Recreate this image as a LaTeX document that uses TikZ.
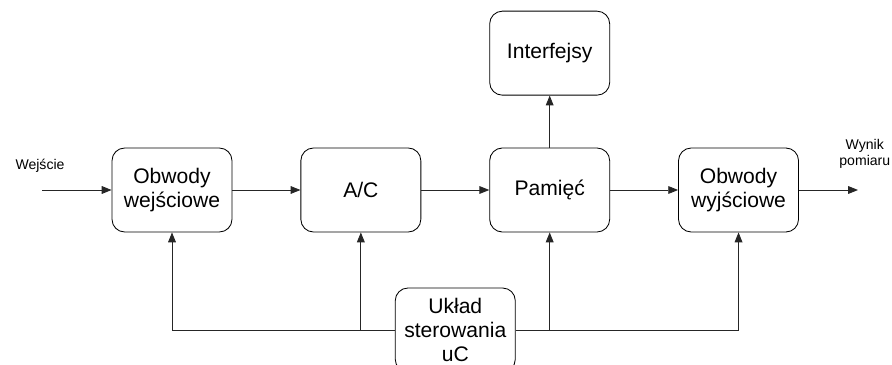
\documentclass[tikz,border=0pt]{standalone}
\usepackage{fontspec}
\setmainfont{Liberation Sans}
\usetikzlibrary{arrows.meta, positioning, calc}

\begin{document}
\begin{tikzpicture}[
  every node/.style={font=\fontsize{15}{17}\selectfont},
  blok/.style={rectangle, rounded corners=9pt, draw=black, line width=0.6pt,
               minimum width=3cm, minimum height=2.1cm, align=center},
  opis/.style={font=\fontsize{10}{11}\selectfont, align=center},
  arr/.style={-{Triangle[length=7pt, width=5.5pt]}, line width=0.6pt, black!85},
  lin/.style={line width=0.6pt, black!85}
]

  % ── Frame ─────────────────────────────────────────────────────
  \clip (0,0) rectangle (22.3,-9.125);

  % ── Main chain ────────────────────────────────────────────────
  \node[blok] (we) at (4.3,-4.75) {Obwody\\wejściowe};
  \node[blok, right=1.7cm of we]  (ac)  {A/C};
  \node[blok, right=1.7cm of ac]  (pam) {Pamięć};
  \node[blok, right=1.7cm of pam] (wy)  {Obwody\\wyjściowe};

  % ── Interfaces and controller ─────────────────────────────────
  \node[blok, above=1.3cm of pam] (intf) {Interfejsy};
  \node[blok] (ctrl) at ($(ac)!0.5!(pam)+(0,-3.5)$) {Układ\\sterowania\\uC};

  % ── Input / output ends ───────────────────────────────────────
  \coordinate (wej) at (1.05,-4.75);
  \coordinate (wyn) at (21.45,-4.75);
  \node[opis] (lwej) at (1.0,-4.15) {Wejście};
  \node[opis] (lwyn) at (21.62,-3.85) {Wynik\\pomiaru};

  % ── Arrows: signal path ──────────────────────────────────────
  \foreach \a/\b in {wej/we, we/ac, ac/pam, pam/wy, wy/wyn}
    \draw[arr] (\a) -- (\b);
  \draw[arr] (pam) -- (intf);

  % ── Arrows: control bus ──────────────────────────────────────
  \draw[arr] (ctrl.west) -| (we.south);
  \draw[arr] (ctrl.west) -| (ac.south);
  \draw[arr] (ctrl.east) -| (pam.south);
  \draw[arr] (ctrl.east) -| (wy.south);

\end{tikzpicture}
\end{document}
